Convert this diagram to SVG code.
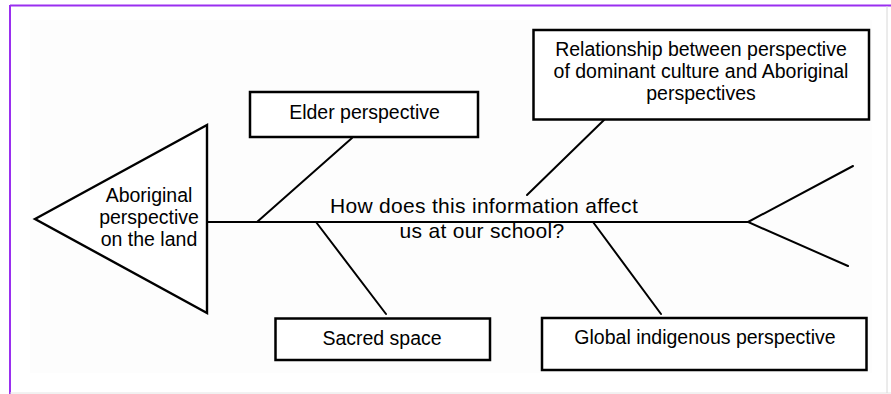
<svg xmlns="http://www.w3.org/2000/svg" width="891" height="394" viewBox="0 0 891 394">
<style>
.box{fill:#fff;stroke:#000;stroke-width:2.5}
.ln{stroke:#000;stroke-width:2;fill:none;stroke-linecap:round}
.t{font-family:"Liberation Sans",Arial,sans-serif;font-size:19.5px;fill:#000;text-anchor:middle}
.q{font-family:"Liberation Sans",Arial,sans-serif;font-size:21px;fill:#000;text-anchor:middle;letter-spacing:0.3px}
</style>
<rect x="0" y="0" width="891" height="394" fill="#fff"/>
<rect x="30" y="20" width="842" height="353" fill="#fdfdfd"/>
<g id="frame">
<line x1="10" y1="5.5" x2="891" y2="5.5" stroke="#9a2ff0" stroke-width="1.8"/>
<line x1="10" y1="5" x2="10" y2="394" stroke="#9a2ff0" stroke-width="2"/>
<line x1="10" y1="393" x2="891" y2="393" stroke="#e4e4e4" stroke-width="1"/>
<line x1="887" y1="6" x2="887" y2="393" stroke="#d8d8d8" stroke-width="1"/>
</g>
<g id="connectors">
<line class="ln" x1="207" y1="222" x2="748" y2="222" stroke-width="2.4"/>
<polyline class="ln" points="853,166 748,222 848,266" stroke-width="2.4"/>
<line class="ln" x1="352" y1="138" x2="257" y2="222"/>
<line class="ln" x1="316" y1="222" x2="386" y2="314"/>
<line class="ln" x1="604" y1="120" x2="527" y2="195"/>
<line class="ln" x1="593" y1="222" x2="661" y2="314"/>
</g>
<g id="head">
<polygon points="35,219 207,125 207,313" fill="#fff" stroke="#000" stroke-width="2.4" stroke-linejoin="miter"/>
<text class="t" x="149" y="202">Aboriginal</text>
<text class="t" x="149" y="224">perspective</text>
<text class="t" x="149" y="246">on the land</text>
</g>
<g id="elder">
<rect class="box" x="250" y="92" width="228" height="45"/>
<text class="t" x="364.5" y="118.5">Elder perspective</text>
</g>
<g id="relationship">
<rect class="box" x="533.5" y="30" width="335.5" height="89.5"/>
<text class="t" x="701" y="56">Relationship between perspective</text>
<text class="t" x="701" y="78">of dominant culture and Aboriginal</text>
<text class="t" x="701" y="100">perspectives</text>
</g>
<g id="sacred">
<rect class="box" x="275.5" y="318.5" width="214.5" height="41.5"/>
<text class="t" x="382" y="345">Sacred space</text>
</g>
<g id="global">
<rect class="box" x="542" y="318" width="324.5" height="52"/>
<text class="t" x="705" y="344">Global indigenous perspective</text>
</g>
<g id="question">
<text class="q" x="484" y="213">How does this information affect</text>
<text class="q" x="482" y="238">us at our school?</text>
</g>
</svg>
